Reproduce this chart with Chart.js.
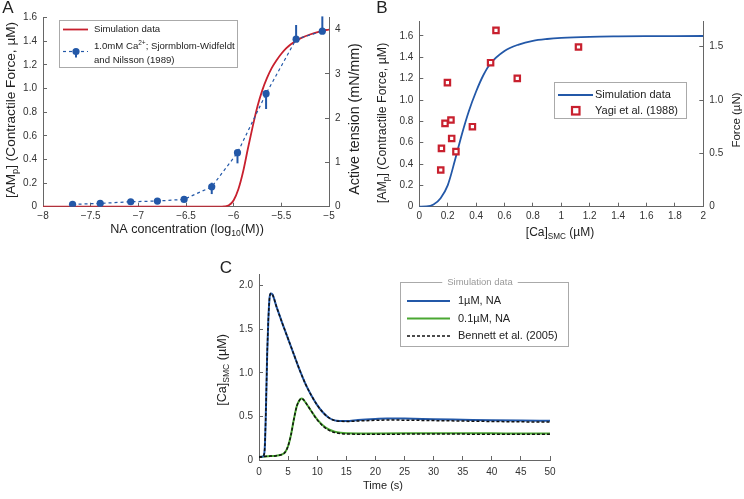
<!DOCTYPE html>
<html>
<head>
<meta charset="utf-8">
<script src="https://cdn.jsdelivr.net/npm/chart.js@4.4.1/dist/chart.umd.min.js"></script>
<style>
  body { margin: 0; background: #fff; }
  #wrap { position: relative; width: 744px; height: 499px; overflow: hidden; }
  canvas { position: absolute; }
</style>
</head>
<body>
<div id="wrap">
  <canvas id="chartA" width="372" height="250" style="left:0;top:0"></canvas>
  <canvas id="chartB" width="372" height="250" style="left:372px;top:0"></canvas>
  <canvas id="chartC" width="400" height="249" style="left:180px;top:250px"></canvas>
</div>
<script>
// panel A - NA dose response
var naSimX = [-8, -6.15, -6.1, -6.05, -6.0, -5.95, -5.9, -5.85, -5.8, -5.75, -5.7, -5.65, -5.6, -5.55, -5.5, -5.45, -5.4, -5.3, -5.2, -5.1, -5];
var naSimY = [0, 0, 0.002, 0.012, 0.055, 0.15, 0.30, 0.495, 0.68, 0.85, 0.985, 1.09, 1.175, 1.24, 1.295, 1.34, 1.375, 1.425, 1.458, 1.482, 1.5];
var naExpX = [-7.69, -7.4, -7.08, -6.8, -6.52, -6.23, -5.96, -5.66, -5.345, -5.07];
var naExpY = [0.02, 0.028, 0.042, 0.048, 0.062, 0.169, 0.457, 0.957, 1.418, 1.486];
var naErrUp = [0, 0, 0, 0, 0, 0.034, 0, 0.03, 0.12, 0.125];
var naErrDown = [0, 0, 0, 0, 0, 0.062, 0.09, 0.13, 0, 0];

// panel B - force vs Ca
var caSimX = [0, 0.05, 0.1, 0.15, 0.2, 0.25, 0.3, 0.35, 0.4, 0.45, 0.5, 0.6, 0.7, 0.8, 0.9, 1.0, 1.2, 1.4, 1.6, 1.8, 2.0];
var caSimY = [0, 0.002, 0.02, 0.08, 0.2, 0.43, 0.68, 0.9, 1.08, 1.23, 1.34, 1.46, 1.52, 1.555, 1.572, 1.582, 1.592, 1.596, 1.598, 1.599, 1.6];
var yagiX = [0.151, 0.156, 0.181, 0.198, 0.223, 0.228, 0.258, 0.374, 0.502, 0.54, 0.69, 1.121];
var yagiY = [0.344, 0.547, 0.781, 1.163, 0.8125, 0.64, 0.516, 0.75, 1.35, 1.653, 1.203, 1.497];

// panel C - Ca transients
var timeHigh = [0, 0.5, 0.8, 1.0, 1.2, 1.4, 1.6, 1.8, 2.0, 2.3, 3, 4, 5, 6, 7, 8, 9, 10, 11, 12, 13, 14, 15, 17, 20, 22, 25, 30, 35, 40, 45, 50];
var caHigh = [0.035, 0.037, 0.05, 0.15, 0.6, 1.2, 1.6, 1.85, 1.91, 1.9, 1.76, 1.57, 1.39, 1.21, 1.03, 0.87, 0.74, 0.63, 0.545, 0.485, 0.455, 0.448, 0.447, 0.458, 0.47, 0.476, 0.475, 0.468, 0.462, 0.456, 0.452, 0.45];
var bennettHigh = [0.035, 0.037, 0.05, 0.15, 0.6, 1.2, 1.6, 1.85, 1.91, 1.9, 1.76, 1.57, 1.39, 1.21, 1.03, 0.87, 0.74, 0.63, 0.545, 0.485, 0.452, 0.444, 0.442, 0.448, 0.455, 0.458, 0.457, 0.452, 0.447, 0.442, 0.438, 0.435];
var timeLow = [0, 1, 2, 3, 4, 4.5, 5, 5.5, 6, 6.5, 7, 7.3, 7.6, 8, 9, 10, 11, 12, 13, 14, 15, 20, 25, 30, 35, 40, 45, 50];
var caLow = [0.035, 0.04, 0.045, 0.05, 0.065, 0.09, 0.16, 0.29, 0.47, 0.62, 0.69, 0.705, 0.695, 0.66, 0.56, 0.465, 0.395, 0.35, 0.325, 0.313, 0.308, 0.305, 0.306, 0.308, 0.307, 0.306, 0.304, 0.303];
var bennettLow = [0.035, 0.04, 0.045, 0.05, 0.065, 0.09, 0.16, 0.29, 0.47, 0.62, 0.69, 0.705, 0.695, 0.66, 0.56, 0.46, 0.388, 0.342, 0.316, 0.304, 0.298, 0.296, 0.297, 0.298, 0.297, 0.296, 0.295, 0.294];

var FONT = '"Liberation Sans", Arial, sans-serif';
var RED = '#c8202e';
var BLUE = '#2358a8';
var GREEN = '#4aa832';
var AXIS = '#666';

Chart.defaults.font.family = FONT;
Chart.defaults.font.size = 10;
Chart.defaults.color = '#333';

function toPoints(xs, ys) {
  return xs.map(function (x, i) { return { x: x, y: ys[i] }; });
}

function oneDecimal(v) { return v === 0 ? '0' : v.toFixed(1); }

function axis(pos, min, max, step, fit, extra, pad) {
  var a = {
    type: 'linear',
    position: pos,
    min: min,
    max: max,
    grid: { drawOnChartArea: false, tickLength: -4, color: AXIS },
    border: { color: AXIS },
    ticks: { stepSize: step, includeBounds: false, autoSkip: false, maxRotation: 0, padding: pad || (pos === 'bottom' ? 8 : 10), color: '#333' },
    afterFit: function (scale) {
      if (pos === 'bottom') scale.height = fit; else scale.width = fit;
    }
  };
  if (extra) a.ticks.callback = extra;
  return a;
}

// text with sub/superscripts: parts = [[text, ''|'sub'|'sup'], ...]
function drawRich(ctx, parts, x, y, size, opts) {
  opts = opts || {};
  ctx.save();
  ctx.translate(x, y);
  if (opts.rotate) ctx.rotate(-Math.PI / 2);
  ctx.fillStyle = opts.color || '#222';
  ctx.textBaseline = 'middle';
  ctx.textAlign = 'left';
  var total = 0;
  parts.forEach(function (p) {
    ctx.font = (p[1] ? size * 0.68 : size) + 'px ' + FONT;
    total += ctx.measureText(p[0]).width;
  });
  var cx = opts.left ? 0 : -total / 2;
  parts.forEach(function (p) {
    ctx.font = (p[1] ? size * 0.68 : size) + 'px ' + FONT;
    var dy = p[1] === 'sub' ? size * 0.3 : (p[1] === 'sup' ? -size * 0.32 : 0);
    ctx.fillText(p[0], cx, dy);
    cx += ctx.measureText(p[0]).width;
  });
  ctx.restore();
}

function line(ctx, x1, y1, x2, y2, color, width, dash) {
  ctx.save();
  ctx.strokeStyle = color;
  ctx.lineWidth = width;
  ctx.setLineDash(dash || []);
  ctx.beginPath();
  ctx.moveTo(x1, y1);
  ctx.lineTo(x2, y2);
  ctx.stroke();
  ctx.restore();
}

function legendBox(ctx, x, y, w, h) {
  ctx.save();
  ctx.fillStyle = '#fff';
  ctx.fillRect(x, y, w, h);
  ctx.strokeStyle = '#aaa';
  ctx.lineWidth = 1;
  ctx.strokeRect(x + 0.5, y + 0.5, w, h);
  ctx.restore();
}

var errorBars = {
  id: 'errorBars',
  afterDatasetsDraw: function (chart) {
    var xs = chart.scales.x, ys = chart.scales.y;
    naExpX.forEach(function (x, i) {
      if (!naErrUp[i] && !naErrDown[i]) return;
      var px = xs.getPixelForValue(x);
      line(chart.ctx, px, ys.getPixelForValue(naExpY[i] + naErrUp[i]), px, ys.getPixelForValue(naExpY[i] - naErrDown[i]), BLUE, 2);
    });
  }
};

var decorA = {
  id: 'decorA',
  afterDraw: function (chart) {
    var ctx = chart.ctx;
    drawRich(ctx, [['A', '']], 8, 8, 17);
    drawRich(ctx, [['[AM', ''], ['p', 'sub'], ['] (Contractile Force, \u00b5M)', '']], 11, 110, 13.6, { rotate: true });
    drawRich(ctx, [['Active tension (mN/mm)', '']], 355, 119, 14.2, { rotate: true });
    drawRich(ctx, [['NA concentration (log', ''], ['10', 'sub'], ['(M))', '']], 187, 230, 12.6);

    legendBox(ctx, 59, 20, 178, 47);
    line(ctx, 63, 29.5, 88, 29.5, RED, 1.8);
    drawRich(ctx, [['Simulation data', '']], 94, 29.5, 9.6, { left: true });
    line(ctx, 63, 51.5, 88, 51.5, BLUE, 1.2, [3, 3]);
    line(ctx, 76, 51.5, 76, 57.5, BLUE, 2);
    ctx.fillStyle = BLUE;
    ctx.beginPath();
    ctx.arc(76, 51.5, 3.6, 0, Math.PI * 2);
    ctx.fill();
    drawRich(ctx, [['1.0mM Ca', ''], ['2+', 'sup'], ['; Sjormblom-Widfeldt', '']], 94, 46.5, 9.6, { left: true });
    drawRich(ctx, [['and Nilsson (1989)', '']], 94, 60, 9.6, { left: true });
  }
};

var decorB = {
  id: 'decorB',
  afterDraw: function (chart) {
    var ctx = chart.ctx;
    drawRich(ctx, [['B', '']], 10, 8, 17);
    drawRich(ctx, [['[AM', ''], ['p', 'sub'], ['] (Contractile Force, \u00b5M)', '']], 11, 123, 12.4, { rotate: true });
    drawRich(ctx, [['Force (\u00b5N)', '']], 365, 120, 11.5, { rotate: true });
    drawRich(ctx, [['[Ca]', ''], ['SMC', 'sub'], [' (\u00b5M)', '']], 188, 233, 12);

    legendBox(ctx, 182, 82, 132, 36);
    line(ctx, 186, 95, 221, 95, BLUE, 1.8);
    drawRich(ctx, [['Simulation data', '']], 223, 95, 11, { left: true });
    ctx.save();
    ctx.strokeStyle = RED;
    ctx.lineWidth = 2.2;
    ctx.strokeRect(200, 107, 7.5, 7.5);
    ctx.restore();
    drawRich(ctx, [['Yagi et al. (1988)', '']], 223, 111, 11, { left: true });
  }
};

var decorC = {
  id: 'decorC',
  afterDraw: function (chart) {
    var ctx = chart.ctx;
    drawRich(ctx, [['C', '']], 46, 18, 17);
    drawRich(ctx, [['[Ca]', ''], ['SMC', 'sub'], [' (\u00b5M)', '']], 43, 120, 12.6, { rotate: true });
    drawRich(ctx, [['Time (s)', '']], 203, 236, 11);

    legendBox(ctx, 220, 32, 168, 64);
    ctx.font = '9.5px ' + FONT;
    var tw = ctx.measureText('Simulation data').width;
    ctx.fillStyle = '#fff';
    ctx.fillRect(300 - tw / 2 - 5, 28, tw + 10, 8);
    drawRich(ctx, [['Simulation data', '']], 300, 32.5, 9.5, { color: '#999' });
    line(ctx, 227, 51, 270, 51, BLUE, 1.8);
    drawRich(ctx, [['1\u00b5M, NA', '']], 278, 51, 11, { left: true });
    line(ctx, 227, 68.5, 270, 68.5, GREEN, 1.8);
    drawRich(ctx, [['0.1\u00b5M, NA', '']], 278, 68.5, 11, { left: true });
    line(ctx, 227, 86, 270, 86, '#111', 1.5, [3, 2]);
    drawRich(ctx, [['Bennett et al. (2005)', '']], 278, 86, 11, { left: true });
  }
};

var common = {
  animation: false,
  responsive: false,
  devicePixelRatio: 1,
  plugins: { legend: { display: false }, tooltip: { enabled: false } }
};

new Chart(document.getElementById('chartA'), {
  type: 'line',
  data: {
    datasets: [{
      label: '1.0mM Ca2+; Sjormblom-Widfeldt and Nilsson (1989)',
      data: toPoints(naExpX, naExpY),
      borderColor: BLUE,
      backgroundColor: BLUE,
      borderWidth: 1.2,
      borderDash: [3, 3],
      pointRadius: 3.6,
      pointBorderWidth: 0,
      order: 0
    }, {
      label: 'Simulation data',
      data: toPoints(naSimX, naSimY),
      borderColor: RED,
      borderWidth: 1.8,
      pointRadius: 0,
      cubicInterpolationMode: 'monotone',
      order: 1
    }]
  },
  options: Object.assign({}, common, {
    layout: { padding: { top: 17.7 } },
    scales: {
      x: axis('bottom', -8, -5, 0.5, 43.3, function (v) { return v < 0 ? '\u2212' + Math.abs(v) : String(v); }),
      y: axis('left', 0, 1.6, 0.2, 43, oneDecimal),
      y2: axis('right', 0, 4.2667, 1, 43, function (v) { return String(v); })
    }
  }),
  plugins: [errorBars, decorA]
});

new Chart(document.getElementById('chartB'), {
  type: 'line',
  data: {
    datasets: [{
      label: 'Yagi et al. (1988)',
      data: toPoints(yagiX, yagiY),
      showLine: false,
      pointStyle: 'rect',
      pointRadius: 3.8,
      pointBorderWidth: 2.2,
      pointBorderColor: RED,
      pointBackgroundColor: '#fff',
      order: 0
    }, {
      label: 'Simulation data',
      data: toPoints(caSimX, caSimY),
      borderColor: BLUE,
      borderWidth: 1.8,
      pointRadius: 0,
      cubicInterpolationMode: 'monotone',
      order: 1
    }]
  },
  options: Object.assign({}, common, {
    layout: { padding: { top: 21.7 } },
    scales: {
      x: axis('bottom', 0, 2, 0.2, 43.3, function (v) { return String(Math.round(v * 10) / 10); }),
      y: axis('left', 0, 1.734, 0.2, 47.3, oneDecimal),
      y2: axis('right', 0, 1.734, 0.5, 40.7, oneDecimal)
    }
  }),
  plugins: [decorB]
});

new Chart(document.getElementById('chartC'), {
  type: 'line',
  data: {
    datasets: [{
      label: 'Bennett et al. (2005)',
      data: toPoints(timeHigh, bennettHigh),
      borderColor: '#111',
      borderWidth: 1.5,
      borderDash: [3, 2],
      pointRadius: 0,
      cubicInterpolationMode: 'monotone',
      order: 0
    }, {
      label: 'Bennett et al. (2005)',
      data: toPoints(timeLow, bennettLow),
      borderColor: '#111',
      borderWidth: 1.5,
      borderDash: [3, 2],
      pointRadius: 0,
      cubicInterpolationMode: 'monotone',
      order: 0
    }, {
      label: '1\u00b5M, NA',
      data: toPoints(timeHigh, caHigh),
      borderColor: BLUE,
      borderWidth: 2,
      pointRadius: 0,
      cubicInterpolationMode: 'monotone',
      order: 1
    }, {
      label: '0.1\u00b5M, NA',
      data: toPoints(timeLow, caLow),
      borderColor: GREEN,
      borderWidth: 2,
      pointRadius: 0,
      cubicInterpolationMode: 'monotone',
      order: 1
    }]
  },
  options: Object.assign({}, common, {
    layout: { padding: { top: 24, right: 30 } },
    scales: {
      x: axis('bottom', 0, 50, 5, 39, null, 10),
      y: axis('left', 0, 2.134, 0.5, 79, oneDecimal)
    }
  }),
  plugins: [decorC]
});
</script>
</body>
</html>
